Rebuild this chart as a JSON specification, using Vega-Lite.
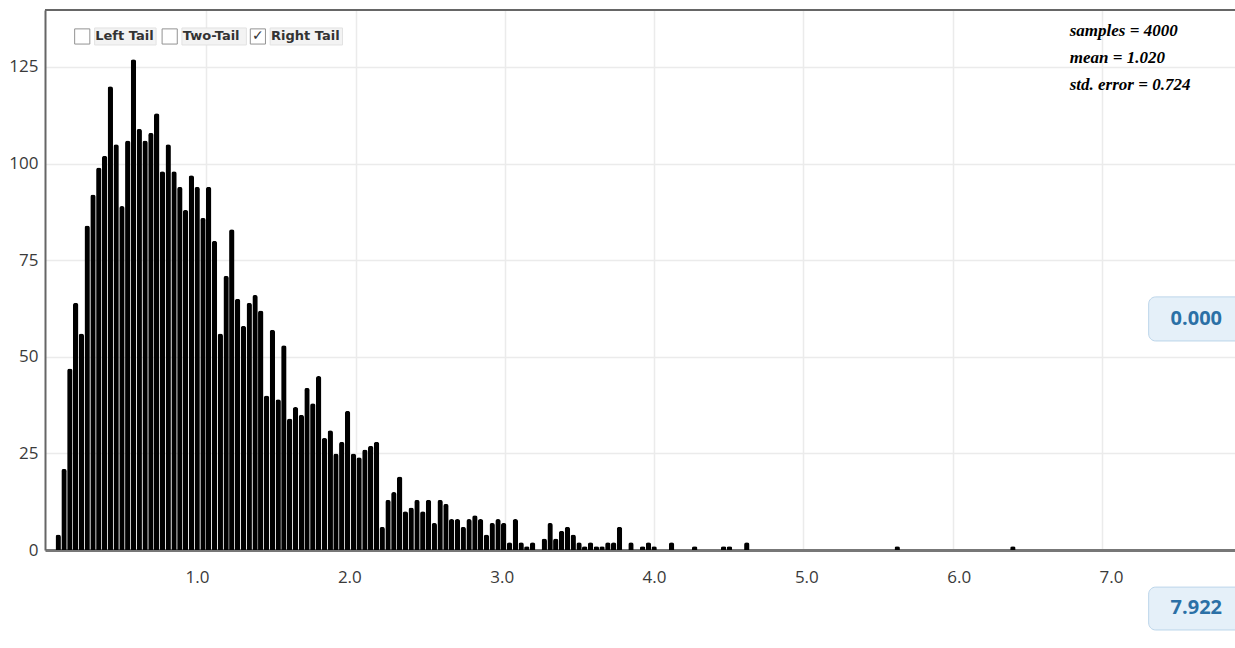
{
  "$schema": "https://vega.github.io/schema/vega-lite/v6.json",
  "width": 1190,
  "height": 540,
  "autosize": {"type": "none"},
  "padding": {"left": 45, "top": 10, "right": 0, "bottom": 98},
  "background": "white",
  "config": {
    "view": {"stroke": null},
    "axis": {"labelFont": "Open Sans", "labelFontSize": 17, "labelColor": "#3a3a3a", "ticks": false, "title": null, "gridColor": "#ebebeb", "gridWidth": 1.5}
  },
  "datasets": {
    "bins": [
      {"x": 0.007, "n": 4}, {"x": 0.046, "n": 21}, {"x": 0.085, "n": 47}, {"x": 0.124, "n": 64}, {"x": 0.162, "n": 56},
      {"x": 0.201, "n": 84}, {"x": 0.240, "n": 92}, {"x": 0.279, "n": 99}, {"x": 0.318, "n": 102}, {"x": 0.356, "n": 120},
      {"x": 0.395, "n": 105}, {"x": 0.434, "n": 89}, {"x": 0.473, "n": 106}, {"x": 0.511, "n": 127}, {"x": 0.550, "n": 109},
      {"x": 0.589, "n": 106}, {"x": 0.628, "n": 108}, {"x": 0.667, "n": 113}, {"x": 0.705, "n": 98}, {"x": 0.744, "n": 105},
      {"x": 0.783, "n": 98}, {"x": 0.822, "n": 94}, {"x": 0.860, "n": 88}, {"x": 0.899, "n": 97}, {"x": 0.938, "n": 94},
      {"x": 0.977, "n": 86}, {"x": 1.015, "n": 94}, {"x": 1.054, "n": 80}, {"x": 1.093, "n": 56}, {"x": 1.132, "n": 71},
      {"x": 1.170, "n": 83}, {"x": 1.209, "n": 65}, {"x": 1.248, "n": 58}, {"x": 1.287, "n": 64}, {"x": 1.326, "n": 66},
      {"x": 1.364, "n": 62}, {"x": 1.403, "n": 40}, {"x": 1.442, "n": 57}, {"x": 1.481, "n": 39}, {"x": 1.519, "n": 53},
      {"x": 1.558, "n": 34}, {"x": 1.597, "n": 37}, {"x": 1.636, "n": 35}, {"x": 1.674, "n": 42}, {"x": 1.713, "n": 38},
      {"x": 1.752, "n": 45}, {"x": 1.791, "n": 29}, {"x": 1.830, "n": 31}, {"x": 1.868, "n": 25}, {"x": 1.907, "n": 28},
      {"x": 1.946, "n": 36}, {"x": 1.985, "n": 25}, {"x": 2.023, "n": 24}, {"x": 2.062, "n": 26}, {"x": 2.101, "n": 27},
      {"x": 2.140, "n": 28}, {"x": 2.178, "n": 6}, {"x": 2.217, "n": 13}, {"x": 2.256, "n": 15}, {"x": 2.295, "n": 19},
      {"x": 2.333, "n": 10}, {"x": 2.372, "n": 11}, {"x": 2.411, "n": 13}, {"x": 2.450, "n": 10}, {"x": 2.488, "n": 13},
      {"x": 2.527, "n": 7}, {"x": 2.566, "n": 13}, {"x": 2.605, "n": 12}, {"x": 2.643, "n": 8}, {"x": 2.682, "n": 8},
      {"x": 2.721, "n": 6}, {"x": 2.760, "n": 8}, {"x": 2.799, "n": 9}, {"x": 2.837, "n": 8}, {"x": 2.876, "n": 4},
      {"x": 2.915, "n": 7}, {"x": 2.954, "n": 8}, {"x": 2.992, "n": 7}, {"x": 3.031, "n": 2}, {"x": 3.070, "n": 8},
      {"x": 3.109, "n": 2}, {"x": 3.147, "n": 1}, {"x": 3.186, "n": 2}, {"x": 3.264, "n": 3}, {"x": 3.303, "n": 7},
      {"x": 3.341, "n": 3}, {"x": 3.380, "n": 5}, {"x": 3.419, "n": 6}, {"x": 3.458, "n": 4}, {"x": 3.497, "n": 2},
      {"x": 3.535, "n": 1}, {"x": 3.574, "n": 2}, {"x": 3.613, "n": 1}, {"x": 3.651, "n": 1}, {"x": 3.690, "n": 2},
      {"x": 3.729, "n": 2}, {"x": 3.768, "n": 6}, {"x": 3.845, "n": 2}, {"x": 3.923, "n": 1}, {"x": 3.962, "n": 2},
      {"x": 4.000, "n": 1}, {"x": 4.117, "n": 2}, {"x": 4.272, "n": 1}, {"x": 4.466, "n": 1}, {"x": 4.505, "n": 1},
      {"x": 4.621, "n": 2}, {"x": 5.629, "n": 1}, {"x": 6.404, "n": 1}
    ],
    "ticks": [{"v": 1}, {"v": 2}, {"v": 3}, {"v": 4}, {"v": 5}, {"v": 6}, {"v": 7}],
    "stats": [
      {"x": 6.785, "y": 134.3, "t": "samples = 4000"},
      {"x": 6.785, "y": 127.3, "t": "mean = 1.020"},
      {"x": 6.785, "y": 120.3, "t": "std. error = 0.724"}
    ],
    "labelbg": [
      {"x": 0.251, "x2": 0.663, "y": 135.1, "y2": 130.7},
      {"x": 0.836, "x2": 1.268, "y": 135.1, "y2": 130.7},
      {"x": 1.427, "x2": 1.912, "y": 135.1, "y2": 130.7}
    ],
    "boxes": [
      {"x": 0.168, "y": 132.9, "checked": "false"},
      {"x": 0.754, "y": 132.9, "checked": "false"},
      {"x": 1.345, "y": 132.9, "checked": "true"}
    ],
    "tails": [
      {"x": 0.255, "y": 132.9, "t": "Left Tail"},
      {"x": 0.842, "y": 132.9, "t": "Two-Tail"},
      {"x": 1.433, "y": 132.9, "t": "Right Tail"}
    ],
    "inputs": [
      {"x": 7.314, "x2": 7.95, "y": 65.5, "y2": 54.1, "cx": 7.633, "cy": 59.8, "t": "0.000"},
      {"x": 7.314, "x2": 7.95, "y": -9.6, "y2": -20.7, "cx": 7.633, "cy": -15.0, "t": "7.922"}
    ]
  },
  "resolve": {"scale": {"x": "independent"}, "axis": {"x": "independent"}},
  "layer": [
    {
      "layer": [
        {
          "data": {"name": "bins"},
          "mark": {"type": "bar", "width": 5.4, "color": "black", "cornerRadiusEnd": 2.5},
          "encoding": {
            "x": {"field": "x", "type": "quantitative", "scale": {"domain": [-0.048, 7.859], "nice": false, "zero": false},
              "axis": {"orient": "bottom", "values": [1, 2, 3, 4, 5, 6, 7], "labels": false, "domainColor": "#777", "domainWidth": 3, "minExtent": 0, "maxExtent": 0}},
            "y": {"field": "n", "type": "quantitative", "scale": {"domain": [0, 139.75], "nice": false},
              "axis": {"values": [0, 25, 50, 75, 100, 125], "labelPadding": 7, "domainColor": "#666", "domainWidth": 2}}
          }
        },
        {
          "data": {"values": [{"top": 139.75}]},
          "mark": {"type": "rule", "color": "#666", "strokeWidth": 2},
          "encoding": {"y": {"field": "top", "type": "quantitative"}}
        },
        {
          "data": {"name": "labelbg"},
          "mark": {"type": "rect", "fill": "#f3f3f3", "stroke": "#e2e2e2", "strokeWidth": 1, "clip": false},
          "encoding": {
            "x": {"field": "x", "type": "quantitative"}, "x2": {"field": "x2"},
            "y": {"field": "y", "type": "quantitative"}, "y2": {"field": "y2"}
          }
        },
        {
          "data": {"name": "boxes"},
          "mark": {"type": "point", "shape": "square", "size": 230, "filled": true, "fill": "white", "stroke": "#666", "strokeWidth": 1},
          "encoding": {"x": {"field": "x", "type": "quantitative"}, "y": {"field": "y", "type": "quantitative"}}
        },
        {
          "data": {"name": "boxes"},
          "transform": [{"filter": "datum.checked == 'true'"}],
          "mark": {"type": "text", "text": "✓", "font": "DejaVu Sans", "fontSize": 14, "color": "#333", "baseline": "middle", "align": "center"},
          "encoding": {"x": {"field": "x", "type": "quantitative"}, "y": {"field": "y", "type": "quantitative"}}
        },
        {
          "data": {"name": "tails"},
          "mark": {"type": "text", "font": "DejaVu Sans", "fontSize": 13, "fontWeight": "bold", "color": "#333", "align": "left", "baseline": "middle"},
          "encoding": {"x": {"field": "x", "type": "quantitative"}, "y": {"field": "y", "type": "quantitative"}, "text": {"field": "t"}}
        },
        {
          "data": {"name": "stats"},
          "mark": {"type": "text", "font": "Liberation Serif", "fontSize": 17, "fontWeight": "bold", "fontStyle": "italic", "color": "black", "align": "left", "baseline": "middle"},
          "encoding": {"x": {"field": "x", "type": "quantitative"}, "y": {"field": "y", "type": "quantitative"}, "text": {"field": "t"}}
        },
        {
          "data": {"name": "inputs"},
          "mark": {"type": "rect", "fill": "#e5f0f9", "stroke": "#bcd5ea", "strokeWidth": 1, "cornerRadius": 7, "clip": false},
          "encoding": {
            "x": {"field": "x", "type": "quantitative"}, "x2": {"field": "x2"},
            "y": {"field": "y", "type": "quantitative"}, "y2": {"field": "y2"}
          }
        },
        {
          "data": {"name": "inputs"},
          "mark": {"type": "text", "font": "Open Sans", "fontSize": 20, "fontWeight": "bold", "color": "#2b70a6", "align": "center", "baseline": "middle", "clip": false},
          "encoding": {"x": {"field": "cx", "type": "quantitative"}, "y": {"field": "cy", "type": "quantitative"}, "text": {"field": "t"}}
        }
      ]
    },
    {
      "data": {"name": "ticks"},
      "mark": {"type": "rule", "opacity": 0},
      "encoding": {
        "x": {"field": "v", "type": "quantitative", "scale": {"domain": [0.002, 7.814], "nice": false, "zero": false},
          "axis": {"orient": "bottom", "values": [1, 2, 3, 4, 5, 6, 7], "format": ".1f", "grid": false, "domain": false, "labelPadding": 19}}
      }
    }
  ]
}
